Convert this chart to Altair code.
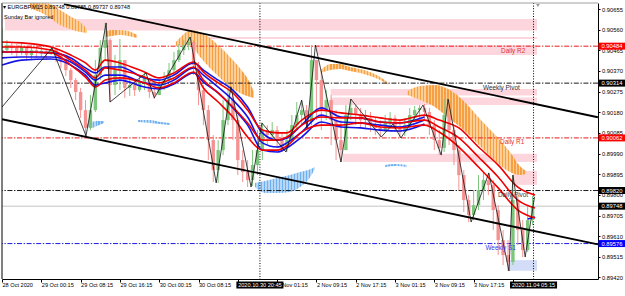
import altair as alt
import pandas as pd

FONT = "Liberation Sans"
W, H = 596, 276

# ---------------- values ----------------
# x = hours since 28 Oct 2020 16:15 (MT4 time axis, weekend skipped)
tick_hours = [0, 8, 16, 24, 32, 40, 48, 56, 64, 72, 80, 88, 96, 104]
tick_labels = ["28 Oct 2020", "29 Oct 00:15", "29 Oct 08:15", "29 Oct 16:15",
               "30 Oct 00:15", "30 Oct 08:15", "", "2 Nov 01:15",
               "2 Nov 09:15", "2 Nov 17:15", "3 Nov 01:15", "3 Nov 09:15",
               "3 Nov 17:15", ""]   # two labels are hidden under the highlighted times
price_ticks = [0.90655, 0.90560, 0.90465, 0.90370, 0.90275, 0.90180, 0.90085,
               0.89990, 0.89895, 0.89800, 0.89705, 0.89610, 0.89515, 0.89420]

# hourly candles
first_open = 0.90453
closes = [0.90466, 0.90489, 0.90476, 0.90457, 0.90480, 0.90443, 0.90466, 0.90453, 0.90462, 0.90448,
          0.90471, 0.90443, 0.90411, 0.90374, 0.90328, 0.90273, 0.90190, 0.90108, 0.90190, 0.90351,
          0.90476, 0.90512, 0.90305, 0.90374, 0.90420, 0.90292, 0.90305, 0.90282, 0.90319, 0.90338,
          0.90273, 0.90259, 0.90305, 0.90328, 0.90374, 0.90420, 0.90466, 0.90489, 0.90503, 0.90397,
          0.90282, 0.90190, 0.90052, 0.89914, 0.90006, 0.90144, 0.90236, 0.90144, 0.89960, 0.89905,
          0.89868, 0.89937, 0.90006, 0.90098, 0.90075, 0.90098, 0.90052, 0.90016, 0.90052, 0.90121,
          0.90167, 0.90190, 0.90135, 0.90420, 0.90328, 0.90190, 0.90236, 0.90144, 0.90052, 0.90006,
          0.90167, 0.90200, 0.90167, 0.90144, 0.90154, 0.90121, 0.90108, 0.90098, 0.90135, 0.90154,
          0.90117, 0.90089, 0.90121, 0.90167, 0.90190, 0.90200, 0.90181, 0.90121, 0.90052, 0.90016,
          0.90167, 0.90098, 0.90006, 0.89891, 0.89776, 0.89707, 0.89753, 0.89822, 0.89868, 0.89845,
          0.89730, 0.89592, 0.89523, 0.89491, 0.89776, 0.89638, 0.89546, 0.89684, 0.89748]
highs = [0.90568, 0.90512, 0.90503, 0.90494, 0.90503, 0.90485, 0.90489, 0.90480, 0.90485, 0.90471,
         0.90485, 0.90476, 0.90448, 0.90420, 0.90384, 0.90338, 0.90292, 0.90236, 0.90259, 0.90420,
         0.90512, 0.90591, 0.90522, 0.90443, 0.90517, 0.90420, 0.90338, 0.90328, 0.90351, 0.90361,
         0.90338, 0.90305, 0.90328, 0.90365, 0.90407, 0.90457, 0.90494, 0.90512, 0.90526, 0.90512,
         0.90411, 0.90305, 0.90213, 0.90075, 0.90052, 0.90236, 0.90297, 0.90282, 0.90167, 0.90006,
         0.89960, 0.90006, 0.90098, 0.90131, 0.90121, 0.90135, 0.90117, 0.90089, 0.90098, 0.90167,
         0.90227, 0.90236, 0.90213, 0.90489, 0.90420, 0.90374, 0.90282, 0.90259, 0.90190, 0.90144,
         0.90213, 0.90241, 0.90213, 0.90200, 0.90190, 0.90181, 0.90154, 0.90144, 0.90167, 0.90181,
         0.90167, 0.90144, 0.90154, 0.90200, 0.90209, 0.90213, 0.90218, 0.90200, 0.90144, 0.90098,
         0.90241, 0.90236, 0.90121, 0.90029, 0.89914, 0.89799, 0.89822, 0.89891, 0.89901, 0.89901,
         0.89868, 0.89753, 0.89638, 0.89592, 0.89891, 0.89799, 0.89684, 0.89753, 0.89795]
lows = [0.90443, 0.90457, 0.90443, 0.90430, 0.90443, 0.90420, 0.90420, 0.90430, 0.90434, 0.90420,
        0.90443, 0.90411, 0.90384, 0.90347, 0.90292, 0.90236, 0.90154, 0.90071, 0.90098, 0.90181,
        0.90328, 0.90420, 0.90227, 0.90259, 0.90282, 0.90246, 0.90255, 0.90255, 0.90273, 0.90282,
        0.90246, 0.90241, 0.90259, 0.90282, 0.90319, 0.90365, 0.90411, 0.90443, 0.90466, 0.90351,
        0.90213, 0.90121, 0.89960, 0.89859, 0.89855, 0.89983, 0.90121, 0.90052, 0.89891, 0.89859,
        0.89836, 0.89841, 0.89891, 0.89960, 0.90029, 0.90052, 0.90016, 0.89997, 0.89997, 0.90052,
        0.90098, 0.90121, 0.90108, 0.90121, 0.90144, 0.90098, 0.90144, 0.90029, 0.89960, 0.89951,
        0.90006, 0.90144, 0.90121, 0.90108, 0.90108, 0.90089, 0.90075, 0.90066, 0.90089, 0.90108,
        0.90089, 0.90062, 0.90071, 0.90108, 0.90144, 0.90154, 0.90144, 0.90075, 0.90006, 0.89983,
        0.89997, 0.90029, 0.89937, 0.89822, 0.89721, 0.89675, 0.89684, 0.89730, 0.89776, 0.89799,
        0.89638, 0.89523, 0.89477, 0.89450, 0.89477, 0.89569, 0.89514, 0.89537, 0.89661]

# moving-average bundles
ma_h = [0, 4, 10, 14, 17, 19, 21, 24, 29, 32, 35, 39, 41, 44, 47, 50, 53, 56, 58, 61, 65, 69,
        73, 77, 81, 86, 89, 93, 97, 101, 105, 108.5]
red_top = [0.90503, 0.90499, 0.90480, 0.90443, 0.90407, 0.90374, 0.90420, 0.90407, 0.90365, 0.90338,
           0.90361, 0.90411, 0.90365, 0.90315, 0.90269, 0.90190, 0.90098, 0.90085, 0.90085, 0.90144,
           0.90190, 0.90177, 0.90167, 0.90154, 0.90144, 0.90167, 0.90144, 0.90108, 0.90020, 0.89937,
           0.89836, 0.89799]
red_mid = [0.90480, 0.90480, 0.90466, 0.90420, 0.90374, 0.90338, 0.90384, 0.90374, 0.90342, 0.90315,
           0.90338, 0.90388, 0.90328, 0.90269, 0.90204, 0.90131, 0.90052, 0.90052, 0.90066, 0.90121,
           0.90158, 0.90154, 0.90154, 0.90135, 0.90131, 0.90144, 0.90112, 0.90062, 0.89974, 0.89882,
           0.89776, 0.89740]
red_bot = [0.90457, 0.90457, 0.90453, 0.90397, 0.90342, 0.90296, 0.90328, 0.90338, 0.90315, 0.90292,
           0.90315, 0.90365, 0.90292, 0.90227, 0.90158, 0.90066, 0.90006, 0.90006, 0.90025, 0.90089,
           0.90121, 0.90121, 0.90131, 0.90112, 0.90108, 0.90121, 0.90089, 0.90020, 0.89928, 0.89832,
           0.89730, 0.89694]
blue_h = [0, 4, 10, 14, 17, 19, 21, 24, 29, 32, 35, 39, 41, 44, 47, 50, 53, 56, 58, 61, 65, 69,
          73, 77, 81, 86]
blue_top = [0.90457, 0.90457, 0.90453, 0.90430, 0.90384, 0.90361, 0.90388, 0.90388, 0.90338, 0.90328,
            0.90351, 0.90407, 0.90374, 0.90328, 0.90282, 0.90204, 0.90085, 0.90052, 0.90062, 0.90121,
            0.90200, 0.90158, 0.90154, 0.90135, 0.90131, 0.90158]
blue_mid = [0.90430, 0.90434, 0.90434, 0.90411, 0.90365, 0.90328, 0.90351, 0.90351, 0.90315, 0.90305,
            0.90328, 0.90384, 0.90351, 0.90296, 0.90236, 0.90158, 0.90039, 0.90020, 0.90039, 0.90089,
            0.90167, 0.90135, 0.90131, 0.90121, 0.90112, 0.90144]
blue_bot = [0.90397, 0.90420, 0.90425, 0.90397, 0.90351, 0.90305, 0.90315, 0.90328, 0.90296, 0.90287,
            0.90310, 0.90361, 0.90319, 0.90269, 0.90200, 0.90121, 0.90006, 0.89997, 0.90016, 0.90066,
            0.90135, 0.90112, 0.90108, 0.90098, 0.90094, 0.90126]
blue_tail_h = [107, 108.5]
blue_tail_p = [0.89689, 0.89698]

# zigzag swing points
zz_h = [0, 10.2, 17.1, 21.2, 22, 29.3, 31, 38.3, 43.6, 46.6, 50.7, 52.9, 57.8, 61, 62.1, 63.8,
        69, 71, 77.2, 79.6, 81.2, 85.7, 89.4, 90.8, 95.5, 99.1, 103.2, 104, 106.5, 108.4]
zz_p = [0.90204, 0.90476, 0.90071, 0.90591, 0.90227, 0.90361, 0.90246, 0.90526, 0.89855, 0.90297,
        0.89836, 0.90131, 0.89997, 0.90236, 0.90108, 0.90489, 0.89951, 0.90241, 0.90066, 0.90126,
        0.90062, 0.90213, 0.89983, 0.90241, 0.89675, 0.89901, 0.89450, 0.89891, 0.89514, 0.89791]

# channel trend lines
upper_h = [12.6, 121.3]
upper_p = [0.90677, 0.90157]
lower_h = [0, 121.3]
lower_p = [0.90148, 0.89572]

# pivot levels
level_names = ["Daily R2", "Weekly Pivot", "Daily R1", "Daily Pivot", "Weekly S1"]
level_prices = [0.90484, 0.90314, 0.90062, 0.89820, 0.89576]
level_colors = ["#e81c1c", "#1a1a1a", "#e81c1c", "#1a1a1a", "#1c1ce0"]
level_text_colors = ["#e0342f", "#303030", "#e0342f", "#404040", "#3a3ae8"]
level_label_h = [106.5, 105.4, 106.3, 107.1, 104.6]
current_price = 0.89748

# supply / demand zones
zone_h0 = [0.6, 40, 64.1, 66.9, 66.9, 69.4, 104, 103.2]
zone_h1 = [108.9, 108.9, 108.9, 108.9, 108.9, 108.9, 108.9, 108.9]
zone_lo = [0.90556, 0.90517, 0.90443, 0.90257, 0.90213, 0.89951, 0.89846, 0.89451]
zone_hi = [0.90609, 0.90526, 0.90489, 0.90287, 0.90248, 0.89989, 0.89910, 0.89500]
zone_col = ["#fdd5dc"] * 7 + ["#d4ddf7"]

# orange cloud segments
o1_h = [5.7, 7.7, 9.8, 11.8, 13.8, 15.9, 17.3]
o1_top = [0.90683, 0.90683, 0.90678, 0.90650, 0.90623, 0.90595, 0.90563]
o1_bot = [0.90660, 0.90641, 0.90614, 0.90581, 0.90563, 0.90549, 0.90545]
o2_h = [21.2, 22.4, 24, 25.7, 27.5]
o2_top = [0.90554, 0.90558, 0.90558, 0.90554, 0.90535]
o2_bot = [0.90526, 0.90531, 0.90535, 0.90531, 0.90522]
o3_h = [35.4, 36.8, 38.3, 40.3, 42.3, 44.4, 46.4, 48.4, 50.5, 51.3]
o3_top = [0.90503, 0.90535, 0.90558, 0.90549, 0.90522, 0.90480, 0.90434, 0.90384, 0.90315, 0.90273]
o3_bot = [0.90485, 0.90489, 0.90489, 0.90434, 0.90384, 0.90338, 0.90296, 0.90269, 0.90250, 0.90246]
o4_h = [64.9, 66.9, 68.8, 70.8, 72.9, 74.9, 77, 78.6]
o4_top = [0.90374, 0.90402, 0.90402, 0.90388, 0.90379, 0.90365, 0.90342, 0.90315]
o4_bot = [0.90361, 0.90374, 0.90379, 0.90370, 0.90361, 0.90347, 0.90328, 0.90305]
o5_h = [82.6, 85.1, 88.1, 91.2, 94.2, 97.3, 100.4, 103.4, 105.4, 106.7]
o5_top = [0.90278, 0.90301, 0.90305, 0.90282, 0.90227, 0.90149, 0.90075, 0.89997, 0.89933, 0.89910]
o5_bot = [0.90259, 0.90236, 0.90204, 0.90149, 0.90094, 0.90025, 0.89956, 0.89905, 0.89891, 0.89896]

# blue cloud segments
b1_h = [17.3, 18.3, 19.3, 20.8]
b1_top = [0.90126, 0.90135, 0.90140, 0.90140]
b1_bot = [0.90112, 0.90108, 0.90117, 0.90131]
b2_h = [27.7, 30.1, 32.2, 34.2]
b2_top = [0.90144, 0.90144, 0.90135, 0.90131]
b2_bot = [0.90135, 0.90131, 0.90126, 0.90121]
b3_h = [51.5, 53.5, 56, 58.6, 60.7, 62.3, 63.7]
b3_top = [0.89855, 0.89864, 0.89878, 0.89891, 0.89905, 0.89914, 0.89928]
b3_bot = [0.89836, 0.89809, 0.89809, 0.89813, 0.89836, 0.89868, 0.89919]
b4_h = [78, 80, 82.4]
b4_top = [0.89937, 0.89942, 0.89937]
b4_bot = [0.89928, 0.89933, 0.89928]

# vertical separators / highlighted times
vline_h = [52.5, 108.2]
vline_text = ["2020.10.30 20:45", "2020.11.04 05:15"]

# highlighted prices on the right scale
box_prices = [0.90484, 0.90314, 0.90062, 0.89820, 0.89748, 0.89576]
box_colors = ["#ff0000", "#000000", "#ff0000", "#000000", "#000000", "#0000ff"]

# ---------------- tables ----------------
opens = [first_open] + closes[:-1]
candles = pd.DataFrame({
    "h": list(range(len(closes))), "o": opens, "c": closes, "hi": highs, "lo": lows})
candles["dir"] = ["up" if c >= o else "down" for o, c in zip(opens, closes)]

def bundle(hs, series):
    rows = []
    for name, vals in series.items():
        for h, p in zip(hs, vals):
            rows.append({"h": h, "p": p, "s": name})
    return pd.DataFrame(rows)

red_df = bundle(ma_h, {"r1": red_top, "r2": red_mid, "r3": red_bot})
blue_df = pd.concat([bundle(blue_h, {"b1": blue_top, "b2": blue_mid, "b3": blue_bot}),
                     bundle(blue_tail_h, {"bt": blue_tail_p})])

zones = pd.DataFrame({"h0": zone_h0, "h1": zone_h1, "lo": zone_lo, "hi": zone_hi, "col": zone_col})
zz = pd.DataFrame({"h": zz_h, "p": zz_p, "i": list(range(len(zz_h)))})
trend = pd.DataFrame({"h": upper_h + lower_h, "p": upper_p + lower_p,
                      "ln": ["u", "u", "l", "l"]})
levels = pd.DataFrame({"p": level_prices, "name": level_names, "col": level_colors,
                       "tc": level_text_colors, "lh": level_label_h})
vlines = pd.DataFrame({"h": vline_h, "txt": vline_text})
boxes = pd.DataFrame({"p": box_prices, "col": box_colors,
                      "txt": [f"{p:.5f}" for p in box_prices]})

xs = alt.Scale(domain=[0, 121.32], nice=False, zero=False)
ys = alt.Scale(domain=[0.89413, 0.906826], nice=False, zero=False)
PX_PER_H = W / 121.32

label_arr = "[" + ",".join(f"'{t}'" for t in tick_labels) + "]"
x_axis = alt.Axis(values=tick_hours, labelExpr=label_arr + "[round(datum.value/8)]",
                  title=None, grid=False, orient="bottom", labelAlign="left",
                  labelBaseline="top", labelPadding=0.5, labelOverlap=False, labelFlush=False,
                  tickSize=3, tickColor="#000", domainColor="#000", labelColor="#000",
                  labelFont=FONT, labelFontSize=5.6)
y_axis = alt.Axis(values=price_ticks, format=".5f", title=None, grid=False, orient="right",
                  labelAlign="left", labelBaseline="middle", labelPadding=1.5,
                  labelOverlap=False, labelFlush=False, tickSize=2, tickColor="#000",
                  domainColor="#000", labelColor="#000", labelFont=FONT, labelFontSize=5.8)

def X(f):
    return alt.X(f, scale=xs, axis=x_axis)

def Y(f):
    return alt.Y(f, scale=ys, axis=y_axis)

def stripes(span_h, dark, light, period=3.0):
    """vertical hatch as a hard-stop linear gradient"""
    n = max(2, round(span_h * PX_PER_H / period))
    stops = []
    for k in range(n):
        a, m, b = k / n, (k + 0.5) / n, (k + 1) / n
        stops += [alt.GradientStop(offset=a, color=dark), alt.GradientStop(offset=m, color=dark),
                  alt.GradientStop(offset=m, color=light), alt.GradientStop(offset=b, color=light)]
    return alt.LinearGradient(gradient="linear", stops=stops, x1=0, x2=1, y1=0, y2=0)

def cloud_layer(hs, tops, bots, fill):
    df = pd.DataFrame({"h": hs, "t": tops, "b": bots})
    return alt.Chart(df).mark_area(interpolate="monotone", color=fill, clip=True).encode(
        x=X("h:Q"), y=Y("t:Q"), y2="b:Q")

layers = []

# zones
layers.append(alt.Chart(zones).mark_rect().encode(
    x=X("h0:Q"), x2="h1:Q", y=Y("lo:Q"), y2="hi:Q",
    color=alt.Color("col:N", scale=None)))

# orange clouds (hatched)
for hs, tp, bt in [(o1_h, o1_top, o1_bot), (o2_h, o2_top, o2_bot), (o3_h, o3_top, o3_bot),
                   (o4_h, o4_top, o4_bot), (o5_h, o5_top, o5_bot)]:
    layers.append(cloud_layer(hs, tp, bt, stripes(hs[-1] - hs[0], "#f7a043", "#fdcf98")))
# blue clouds (hatched)
for hs, tp, bt in [(b1_h, b1_top, b1_bot), (b2_h, b2_top, b2_bot),
                   (b3_h, b3_top, b3_bot), (b4_h, b4_top, b4_bot)]:
    layers.append(cloud_layer(hs, tp, bt, stripes(hs[-1] - hs[0], "#6eb0f0", "#b7d7f7")))

# current price line
layers.append(alt.Chart(pd.DataFrame({"p": [current_price]})).mark_rule(
    color="#c4c4c4", strokeWidth=1).encode(y=Y("p:Q")))

# pivot levels
layers.append(alt.Chart(levels).mark_rule(strokeWidth=1, strokeDash=[5, 1.6, 1.4, 1.6]).encode(
    y=Y("p:Q"), color=alt.Color("col:N", scale=None)))

# vertical dotted lines
layers.append(alt.Chart(vlines).mark_rule(color="#000", strokeWidth=1,
                                         strokeDash=[1, 1.6]).encode(x=X("h:Q")))

# candles
layers.append(alt.Chart(candles).mark_rule(strokeWidth=3.4, clip=True).encode(
    x=X("h:Q"), y=Y("o:Q"), y2="c:Q",
    color=alt.Color("dir:N", scale=alt.Scale(domain=["up", "down"],
                                             range=["#7cc67c", "#f59292"]), legend=None)))
layers.append(alt.Chart(candles).mark_rule(strokeWidth=1, clip=True).encode(
    x=X("h:Q"), y=Y("lo:Q"), y2="hi:Q",
    color=alt.Color("dir:N", scale=alt.Scale(domain=["up", "down"],
                                             range=["#128a12", "#f02828"]), legend=None)))

# moving averages
layers.append(alt.Chart(blue_df).mark_line(interpolate="monotone", color="#1414e6",
                                          strokeWidth=1.6, clip=True).encode(
    x=X("h:Q"), y=Y("p:Q"), detail="s:N"))
layers.append(alt.Chart(red_df).mark_line(interpolate="monotone", color="#f00000",
                                         strokeWidth=1.6, clip=True).encode(
    x=X("h:Q"), y=Y("p:Q"), detail="s:N"))

# zigzag
layers.append(alt.Chart(zz).mark_line(color="#111", strokeWidth=0.8, clip=True).encode(
    x=X("h:Q"), y=Y("p:Q"), order="i:Q"))

# channel lines
layers.append(alt.Chart(trend).mark_line(color="#000", strokeWidth=1.8, clip=True).encode(
    x=X("h:Q"), y=Y("p:Q"), detail="ln:N"))

# level labels
layers.append(alt.Chart(levels).mark_text(align="right", baseline="top", dy=1.5, font=FONT,
                                          fontSize=6.4).encode(
    x=X("lh:Q"), y=Y("p:Q"), text="name:N", color=alt.Color("tc:N", scale=None)))

# plot frame (left border black, top border grey)
layers.append(alt.Chart(pd.DataFrame({"a": [0]})).mark_rule(color="#000", strokeWidth=1).encode(
    x=alt.value(0), y=alt.value(0), y2=alt.value(H)))
layers.append(alt.Chart(pd.DataFrame({"a": [0]})).mark_rule(color="#a0a0a0", strokeWidth=1).encode(
    x=alt.value(0), x2=alt.value(W), y=alt.value(0)))

# header texts
layers.append(alt.Chart(pd.DataFrame({"t": ["▾ EURGBP,M15  0.89748 0.89785 0.89737 0.89748"]})).mark_text(
    align="left", baseline="middle", font=FONT, fontSize=5.6, color="#000").encode(
    x=alt.value(1), y=alt.value(4), text="t:N"))
layers.append(alt.Chart(pd.DataFrame({"t": ["Sunday Bar ignored"]})).mark_text(
    align="left", baseline="middle", font=FONT, fontSize=5.6, color="#000").encode(
    x=alt.value(2), y=alt.value(14), text="t:N"))

# shift marker
layers.append(alt.Chart(pd.DataFrame({"h": [109.1]})).mark_point(
    shape="triangle-down", filled=True, size=14, color="#9a9a9a", opacity=1).encode(
    x=X("h:Q"), y=alt.value(2.5)))

# highlighted prices on the right axis
layers.append(alt.Chart(boxes).mark_rule(strokeWidth=7).encode(
    x=alt.value(W + 0.5), x2=alt.value(W + 29), y=Y("p:Q"),
    color=alt.Color("col:N", scale=None)))
layers.append(alt.Chart(boxes).mark_text(align="left", baseline="middle", font=FONT,
                                         fontSize=5.8, color="#fff").encode(
    x=alt.value(W + 3.5), y=Y("p:Q"), text="txt:N"))

# highlighted times on the bottom axis
box_path = "M-3.36,-0.5H3.36V0.5H-3.36Z"
layers.append(alt.Chart(vlines).mark_point(shape=box_path, filled=True, size=196,
                                          color="#000", opacity=1, strokeWidth=0).encode(
    x=X("h:Q"), y=alt.value(H + 6)))
layers.append(alt.Chart(vlines).mark_text(align="center", baseline="middle", font=FONT,
                                          fontSize=5.6, color="#fff").encode(
    x=X("h:Q"), y=alt.value(H + 6), text="txt:N"))

chart = alt.layer(*layers).properties(
    width=W, height=H,
    padding={"left": 2, "top": 3, "right": 27, "bottom": 17},
    autosize=alt.AutoSizeParams(type="none"),
    background="white",
).configure_view(stroke=None)

chart.save("out.html", embed_options={"renderer": "svg", "actions": False})
